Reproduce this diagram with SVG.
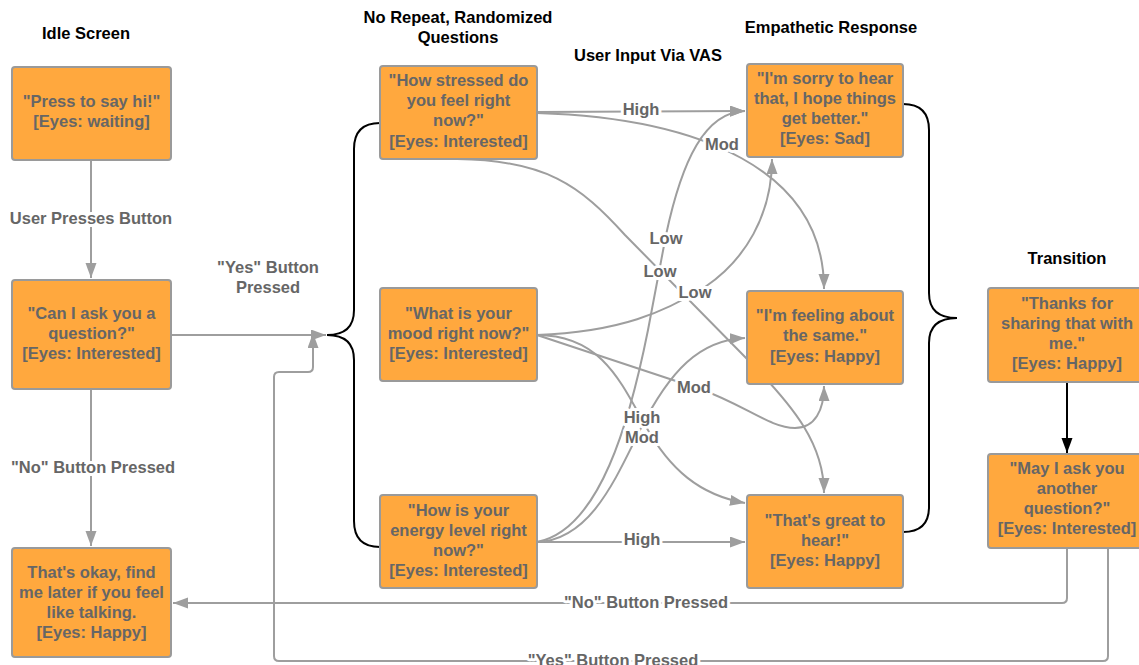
<svg xmlns="http://www.w3.org/2000/svg" width="1139" height="665" viewBox="0 0 1139 665">
<style>
.box{fill:#ffa83e;stroke:#9a9a9a;stroke-width:2}
.bt{font-family:"Liberation Sans",Arial,sans-serif;font-weight:bold;font-size:16.5px;fill:#666;text-anchor:middle}
.hd{font-family:"Liberation Sans",Arial,sans-serif;font-weight:bold;font-size:16.5px;fill:#000;text-anchor:middle}
.ln{fill:none;stroke:#9e9e9e;stroke-width:2;marker-end:url(#ag)}
.ln0{fill:none;stroke:#9e9e9e;stroke-width:2}
.br{fill:none;stroke:#000;stroke-width:2}
.lb{font-family:"Liberation Sans",Arial,sans-serif;font-weight:bold;font-size:16.5px;fill:#666;text-anchor:middle;stroke:#fff;stroke-width:6;stroke-linejoin:round;paint-order:stroke}
</style>
<defs>
<marker id="ag" markerUnits="userSpaceOnUse" markerWidth="16" markerHeight="12" refX="15" refY="5.5" orient="auto"><path d="M0,0 L15,5.5 L0,11 z" fill="#9e9e9e"/></marker>
<marker id="ab" markerUnits="userSpaceOnUse" markerWidth="16" markerHeight="12" refX="15" refY="5.5" orient="auto"><path d="M0,0 L15,5.5 L0,11 z" fill="#000"/></marker>
</defs>
<rect width="1139" height="665" fill="#fff"/>
<g id="titles">
<text class="hd" x="86" y="39">Idle Screen</text>
<text class="hd" x="458" y="23">No Repeat, Randomized</text>
<text class="hd" x="458" y="43">Questions</text>
<text class="hd" x="648" y="61">User Input Via VAS</text>
<text class="hd" x="831" y="33">Empathetic Response</text>
<text class="hd" x="1067" y="264">Transition</text>
</g>
<g id="connectors">
<path class="ln" d="M91,160 L91,278"/>
<path class="ln" d="M171,335 L326,335"/>
<path class="ln" d="M91,389 L91,546"/>
<path class="br" d="M380,123 Q354,123 354,149 L354,310 Q354,335 327,335 Q354,335 354,360 L354,521 Q354,547 380,547"/>
<path class="br" d="M903,104 Q929,104 929,130 L929,293 Q929,318 957,318 Q929,318 929,343 L929,507 Q929,532 903,532"/>
<path fill="none" stroke="#000" stroke-width="2" marker-end="url(#ab)" d="M1067,382 L1067,453"/>
<path class="ln" d="M1067,548 L1067,598 Q1067,603 1062,603 L173,603"/>
<path class="ln" d="M1108,548 L1108,656 Q1108,661 1103,661 L279,661 Q274,661 274,656 L274,377 Q274,372 279,372 L308,372 Q313,372 313,367 L313,333"/>
<path class="ln" d="M537,112 L745,111"/>
<path class="ln" d="M537,113 C700,118 824,170 824,289"/>
<path class="ln" d="M457,159 C545,160 580,185 625,235 L750,362 C795,408 824,445 824,493"/>
<path class="ln" d="M537,335 C620,332 665,312 705,287 C745,260 772,215 772,159"/>
<path class="ln" d="M537,335 L700,389 C745,405 770,428 795,428 C815,428 824,410 824,386"/>
<path class="ln" d="M537,335 C600,335 620,380 645,425 C670,470 700,495 745,503"/>
<path class="ln" d="M537,542 L745,542"/>
<path class="ln" d="M537,542 C590,540 615,480 640,430 C670,370 700,340 745,338"/>
<path class="ln" d="M537,542 C600,530 630,420 648,330 L666,235 C682,160 705,112 745,111"/>
<g id="labels">
<text class="lb" x="91" y="224">User Presses Button</text>
<text class="lb" x="268" y="273">"Yes" Button</text>
<text class="lb" x="268" y="293">Pressed</text>
<text class="lb" x="93" y="473">"No" Button Pressed</text>
<text class="lb" x="646" y="608">"No" Button Pressed</text>
<text class="lb" x="613" y="666">"Yes" Button Pressed</text>
<text class="lb" x="641" y="115">High</text>
<text class="lb" x="722" y="150">Mod</text>
<text class="lb" x="666" y="244">Low</text>
<text class="lb" x="660" y="277">Low</text>
<text class="lb" x="695" y="298">Low</text>
<text class="lb" x="694" y="393">Mod</text>
<text class="lb" x="642" y="423">High</text>
<text class="lb" x="642" y="443">Mod</text>
<text class="lb" x="642" y="545">High</text>
</g>
</g>
<g id="idle">
<rect class="box" x="12" y="67" width="159" height="93" rx="3"/>
<text class="bt" x="91.5" y="107">"Press to say hi!"</text>
<text class="bt" x="91.5" y="127">[Eyes: waiting]</text>
</g>
<g id="ask">
<rect class="box" x="12" y="280" width="159" height="109" rx="3"/>
<text class="bt" x="91.5" y="319">"Can I ask you a</text>
<text class="bt" x="91.5" y="339">question?"</text>
<text class="bt" x="91.5" y="359">[Eyes: Interested]</text>
</g>
<g id="okay">
<rect class="box" x="12" y="548" width="159" height="109" rx="3"/>
<text class="bt" x="91.5" y="578">That's okay, find</text>
<text class="bt" x="91.5" y="598">me later if you feel</text>
<text class="bt" x="91.5" y="618">like talking.</text>
<text class="bt" x="91.5" y="638">[Eyes: Happy]</text>
</g>
<g id="q1">
<rect class="box" x="380" y="66" width="157" height="93" rx="3"/>
<text class="bt" x="458.5" y="86">"How stressed do</text>
<text class="bt" x="458.5" y="106">you feel right</text>
<text class="bt" x="458.5" y="126">now?"</text>
<text class="bt" x="458.5" y="147">[Eyes: Interested]</text>
</g>
<g id="q2">
<rect class="box" x="380" y="288" width="157" height="93" rx="3"/>
<text class="bt" x="458.5" y="319">"What is your</text>
<text class="bt" x="458.5" y="339">mood right now?"</text>
<text class="bt" x="458.5" y="359">[Eyes: Interested]</text>
</g>
<g id="q3">
<rect class="box" x="380" y="495" width="157" height="93" rx="3"/>
<text class="bt" x="458.5" y="516">"How is your</text>
<text class="bt" x="458.5" y="536">energy level right</text>
<text class="bt" x="458.5" y="556">now?"</text>
<text class="bt" x="458.5" y="576">[Eyes: Interested]</text>
</g>
<g id="r1">
<rect class="box" x="747" y="64" width="156" height="93" rx="3"/>
<text class="bt" x="825" y="84">"I'm sorry to hear</text>
<text class="bt" x="825" y="104">that, I hope things</text>
<text class="bt" x="825" y="124">get better."</text>
<text class="bt" x="825" y="144">[Eyes: Sad]</text>
</g>
<g id="r2">
<rect class="box" x="747" y="291" width="156" height="93" rx="3"/>
<text class="bt" x="825" y="321">"I'm feeling about</text>
<text class="bt" x="825" y="341">the same."</text>
<text class="bt" x="825" y="362">[Eyes: Happy]</text>
</g>
<g id="r3">
<rect class="box" x="747" y="495" width="156" height="93" rx="3"/>
<text class="bt" x="825" y="526">"That's great to</text>
<text class="bt" x="825" y="546">hear!"</text>
<text class="bt" x="825" y="566">[Eyes: Happy]</text>
</g>
<g id="t1">
<rect class="box" x="988" y="288" width="158" height="94" rx="3"/>
<text class="bt" x="1067" y="309">"Thanks for</text>
<text class="bt" x="1067" y="329">sharing that with</text>
<text class="bt" x="1067" y="349">me."</text>
<text class="bt" x="1067" y="369">[Eyes: Happy]</text>
</g>
<g id="t2">
<rect class="box" x="988" y="454" width="158" height="94" rx="3"/>
<text class="bt" x="1067" y="474">"May I ask you</text>
<text class="bt" x="1067" y="494">another</text>
<text class="bt" x="1067" y="514">question?"</text>
<text class="bt" x="1067" y="534">[Eyes: Interested]</text>
</g>
</svg>
